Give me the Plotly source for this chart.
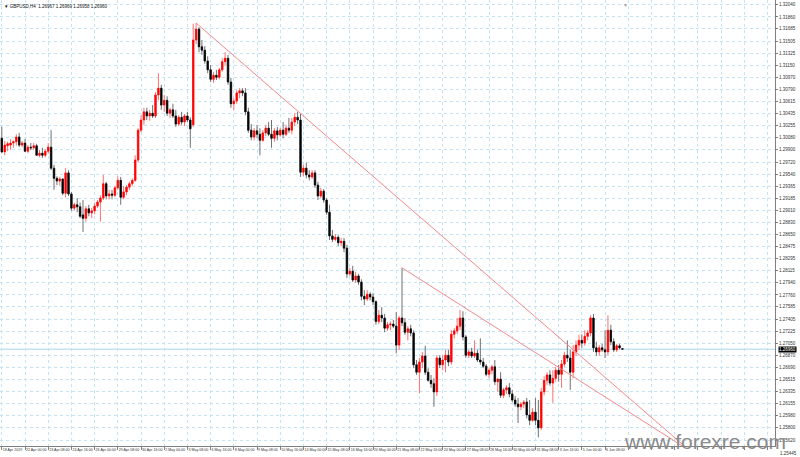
import plotly.graph_objects as go

# ---- data (GBPUSD, H4 bars) ----
open_ = [1.3007, 1.2987, 1.2996, 1.2997, 1.3000, 1.3002, 1.3009, 1.2997, 1.3000, 1.2988,
         1.2994, 1.2993, 1.2996, 1.2982, 1.2985, 1.2982, 1.2988, 1.2994, 1.2963, 1.2948,
         1.2944, 1.2947, 1.2926, 1.2956, 1.2925, 1.2904, 1.2909, 1.2906, 1.2894, 1.2889,
         1.2903, 1.2897, 1.2900, 1.2907, 1.2913, 1.2919, 1.2940, 1.2922, 1.2925, 1.2923,
         1.2934, 1.2945, 1.2920, 1.2928, 1.2935, 1.2940, 1.2945, 1.2975, 1.3019, 1.3034,
         1.3046, 1.3040, 1.3044, 1.3040, 1.3071, 1.3081, 1.3056, 1.3063, 1.3044, 1.3049,
         1.3040, 1.3028, 1.3038, 1.3031, 1.3040, 1.3034, 1.3027, 1.3152, 1.3168, 1.3142,
         1.3137, 1.3121, 1.3108, 1.3094, 1.3100, 1.3097, 1.3108, 1.3120, 1.3125, 1.3090,
         1.3058, 1.3062, 1.3074, 1.3077, 1.3074, 1.3046, 1.3019, 1.3009, 1.3018, 1.3013,
         1.3004, 1.3015, 1.3022, 1.3013, 1.3007, 1.3018, 1.3012, 1.3019, 1.3013, 1.3022,
         1.3019, 1.3031, 1.3038, 1.3034, 1.2957, 1.2963, 1.2953, 1.2950, 1.2956, 1.2938,
         1.2922, 1.2929, 1.2916, 1.2898, 1.2863, 1.2858, 1.2861, 1.2853, 1.2855, 1.2845,
         1.2807, 1.2811, 1.2798, 1.2804, 1.2795, 1.2774, 1.2770, 1.2777, 1.2773, 1.2766,
         1.2737, 1.2746, 1.2742, 1.2727, 1.2732, 1.2733, 1.2730, 1.2702, 1.2742, 1.2735,
         1.2721, 1.2726, 1.2720, 1.2673, 1.2662, 1.2677, 1.2686, 1.2662, 1.2650, 1.2645,
         1.2633, 1.2683, 1.2673, 1.2680, 1.2687, 1.2677, 1.2718, 1.2723, 1.2730, 1.2742,
         1.2714, 1.2687, 1.2692, 1.2686, 1.2690, 1.2680, 1.2677, 1.2671, 1.2659, 1.2665,
         1.2670, 1.2648, 1.2652, 1.2628, 1.2636, 1.2639, 1.2630, 1.2621, 1.2615, 1.2611,
         1.2615, 1.2618, 1.2599, 1.2591, 1.2603, 1.2591, 1.2580, 1.2633, 1.2650, 1.2658,
         1.2646, 1.2653, 1.2665, 1.2659, 1.2674, 1.2687, 1.2683, 1.2662, 1.2692, 1.2702,
         1.2709, 1.2705, 1.2715, 1.2720, 1.2742, 1.2698, 1.2692, 1.2698, 1.2695, 1.2692,
         1.2724, 1.2707, 1.2695, 1.2701, 1.26967]

high = [1.3024, 1.3003, 1.3002, 1.3006, 1.3004, 1.3013, 1.3015, 1.3003, 1.3006, 1.2997,
        1.3000, 1.3000, 1.2999, 1.2990, 1.2993, 1.2991, 1.3000, 1.3019, 1.2968, 1.2951,
        1.2950, 1.2948, 1.2963, 1.2960, 1.2928, 1.2912, 1.2919, 1.2912, 1.2916, 1.2907,
        1.2909, 1.2904, 1.2912, 1.2916, 1.2923, 1.2953, 1.2943, 1.2931, 1.2931, 1.2937,
        1.2951, 1.2950, 1.2937, 1.2938, 1.2943, 1.2948, 1.2982, 1.3022, 1.3041, 1.3052,
        1.3052, 1.3049, 1.3056, 1.3075, 1.3103, 1.3086, 1.3071, 1.3069, 1.3052, 1.3058,
        1.3049, 1.3041, 1.3046, 1.3043, 1.3046, 1.3038, 1.3176, 1.3177, 1.3171, 1.3152,
        1.3143, 1.3128, 1.3115, 1.3105, 1.3108, 1.3111, 1.3125, 1.3134, 1.3130, 1.3096,
        1.3066, 1.3078, 1.3081, 1.3081, 1.3081, 1.3052, 1.3028, 1.3022, 1.3027, 1.3022,
        1.3019, 1.3027, 1.3031, 1.3034, 1.3022, 1.3024, 1.3022, 1.3031, 1.3027, 1.3037,
        1.3037, 1.3044, 1.3046, 1.3043, 1.2968, 1.2971, 1.2960, 1.2960, 1.2960, 1.2943,
        1.2934, 1.2932, 1.2919, 1.2909, 1.2872, 1.2866, 1.2864, 1.2860, 1.2860, 1.2850,
        1.2816, 1.2819, 1.2810, 1.2807, 1.2799, 1.2783, 1.2783, 1.2780, 1.2779, 1.2768,
        1.2754, 1.2758, 1.2748, 1.2736, 1.2737, 1.2739, 1.2751, 1.2745, 1.2816, 1.2742,
        1.2730, 1.2732, 1.2724, 1.2680, 1.2683, 1.2692, 1.2701, 1.2668, 1.2658, 1.2653,
        1.2687, 1.2687, 1.2687, 1.2695, 1.2695, 1.2724, 1.2727, 1.2742, 1.2754, 1.2752,
        1.2717, 1.2695, 1.2698, 1.2709, 1.2695, 1.2712, 1.2683, 1.2674, 1.2668, 1.2673,
        1.2680, 1.2653, 1.2662, 1.2639, 1.2643, 1.2646, 1.2636, 1.2627, 1.2624, 1.2618,
        1.2621, 1.2624, 1.2621, 1.2609, 1.2624, 1.2621, 1.2639, 1.2656, 1.2662, 1.2665,
        1.2665, 1.2670, 1.2673, 1.2680, 1.2692, 1.2709, 1.2695, 1.2702, 1.2709, 1.2717,
        1.2718, 1.2724, 1.2724, 1.2746, 1.2748, 1.2707, 1.2702, 1.2704, 1.2724, 1.2746,
        1.2732, 1.2712, 1.2704, 1.2704, 1.26969]

low = [1.2985, 1.2982, 1.2988, 1.2990, 1.2993, 1.2996, 1.2994, 1.2994, 1.2987, 1.2985,
       1.2990, 1.2990, 1.2981, 1.2979, 1.2978, 1.2979, 1.2984, 1.2960, 1.2931, 1.2938,
       1.2937, 1.2923, 1.2920, 1.2922, 1.2900, 1.2901, 1.2898, 1.2889, 1.2869, 1.2884,
       1.2892, 1.2889, 1.2895, 1.2904, 1.2884, 1.2916, 1.2917, 1.2917, 1.2917, 1.2920,
       1.2931, 1.2909, 1.2917, 1.2923, 1.2931, 1.2937, 1.2943, 1.2972, 1.3016, 1.3027,
       1.3034, 1.3033, 1.3037, 1.3037, 1.3063, 1.3049, 1.3046, 1.3040, 1.3037, 1.3037,
       1.3024, 1.3025, 1.3027, 1.3025, 1.3031, 1.2993, 1.3024, 1.3146, 1.3134, 1.3130,
       1.3117, 1.3103, 1.3090, 1.3089, 1.3093, 1.3094, 1.3105, 1.3114, 1.3086, 1.3052,
       1.3049, 1.3058, 1.3066, 1.3069, 1.3041, 1.3015, 1.3004, 1.3004, 1.3007, 1.2982,
       1.3002, 1.3010, 1.3010, 1.2993, 1.3002, 1.3004, 1.3009, 1.3007, 1.3010, 1.3015,
       1.3013, 1.3025, 1.3028, 1.2950, 1.2951, 1.2948, 1.2945, 1.2947, 1.2934, 1.2916,
       1.2919, 1.2912, 1.2894, 1.2857, 1.2854, 1.2855, 1.2848, 1.2848, 1.2839, 1.2801,
       1.2804, 1.2795, 1.2794, 1.2791, 1.2768, 1.2761, 1.2767, 1.2768, 1.2761, 1.2732,
       1.2733, 1.2736, 1.2721, 1.2723, 1.2724, 1.2727, 1.2690, 1.2695, 1.2730, 1.2717,
       1.2709, 1.2715, 1.2668, 1.2658, 1.2631, 1.2668, 1.2658, 1.2648, 1.2639, 1.2611,
       1.2627, 1.2668, 1.2665, 1.2662, 1.2671, 1.2673, 1.2712, 1.2718, 1.2724, 1.2709,
       1.2683, 1.2683, 1.2683, 1.2683, 1.2677, 1.2673, 1.2668, 1.2656, 1.2653, 1.2659,
       1.2643, 1.2633, 1.2624, 1.2624, 1.2630, 1.2625, 1.2618, 1.2611, 1.2587, 1.2606,
       1.2609, 1.2594, 1.2584, 1.2589, 1.2584, 1.2566, 1.2577, 1.2628, 1.2643, 1.2642,
       1.2617, 1.2648, 1.2648, 1.2639, 1.2670, 1.2677, 1.2636, 1.2653, 1.2686, 1.2695,
       1.2698, 1.2701, 1.2709, 1.2715, 1.2692, 1.2686, 1.2686, 1.2692, 1.2683, 1.2687,
       1.2702, 1.2692, 1.2692, 1.2696, 1.26958]

close = [1.2987, 1.2997, 1.2999, 1.3000, 1.3002, 1.3009, 1.2997, 1.3000, 1.2988, 1.2994,
         1.2993, 1.2996, 1.2982, 1.2985, 1.2982, 1.2988, 1.2994, 1.2963, 1.2948, 1.2944,
         1.2947, 1.2926, 1.2956, 1.2925, 1.2904, 1.2909, 1.2906, 1.2892, 1.2889, 1.2903,
         1.2897, 1.2900, 1.2907, 1.2913, 1.2919, 1.2940, 1.2922, 1.2925, 1.2923, 1.2934,
         1.2945, 1.2920, 1.2928, 1.2935, 1.2940, 1.2945, 1.2975, 1.3019, 1.3034, 1.3046,
         1.3040, 1.3044, 1.3040, 1.3071, 1.3081, 1.3056, 1.3063, 1.3044, 1.3049, 1.3040,
         1.3028, 1.3038, 1.3031, 1.3040, 1.3034, 1.3021, 1.3152, 1.3168, 1.3142, 1.3137,
         1.3121, 1.3108, 1.3094, 1.3100, 1.3097, 1.3108, 1.3120, 1.3125, 1.3090, 1.3058,
         1.3062, 1.3074, 1.3077, 1.3074, 1.3046, 1.3019, 1.3009, 1.3018, 1.3013, 1.3004,
         1.3015, 1.3022, 1.3013, 1.3007, 1.3018, 1.3012, 1.3019, 1.3013, 1.3022, 1.3019,
         1.3031, 1.3038, 1.3034, 1.2957, 1.2963, 1.2953, 1.2950, 1.2956, 1.2938, 1.2922,
         1.2929, 1.2916, 1.2898, 1.2863, 1.2858, 1.2861, 1.2853, 1.2855, 1.2845, 1.2807,
         1.2811, 1.2798, 1.2804, 1.2795, 1.2774, 1.2770, 1.2777, 1.2773, 1.2766, 1.2737,
         1.2746, 1.2742, 1.2727, 1.2732, 1.2733, 1.2730, 1.2702, 1.2742, 1.2735, 1.2721,
         1.2726, 1.2720, 1.2673, 1.2662, 1.2677, 1.2686, 1.2662, 1.2650, 1.2645, 1.2633,
         1.2683, 1.2673, 1.2680, 1.2687, 1.2677, 1.2718, 1.2723, 1.2730, 1.2742, 1.2714,
         1.2687, 1.2692, 1.2686, 1.2690, 1.2680, 1.2677, 1.2671, 1.2659, 1.2665, 1.2670,
         1.2648, 1.2652, 1.2628, 1.2636, 1.2639, 1.2630, 1.2621, 1.2615, 1.2611, 1.2615,
         1.2618, 1.2599, 1.2591, 1.2603, 1.2591, 1.2580, 1.2633, 1.2650, 1.2658, 1.2646,
         1.2653, 1.2665, 1.2659, 1.2674, 1.2687, 1.2683, 1.2662, 1.2692, 1.2702, 1.2709,
         1.2705, 1.2715, 1.2720, 1.2742, 1.2698, 1.2692, 1.2698, 1.2695, 1.2692, 1.2724,
         1.2707, 1.2695, 1.2701, 1.2698, 1.26960]

# time-axis labels (every 8th H4 bar)
time_tick_bars = [0, 8, 16, 24, 32, 40, 48, 56, 64, 72, 80, 88, 96, 104, 112, 120,
                  128, 136, 144, 152, 160, 168, 176, 184, 192, 200, 208]
time_tick_labels = ["18 Apr 2019", "22 Apr 00:00", "23 Apr 08:00", "24 Apr 16:00",
                    "26 Apr 00:00", "29 Apr 08:00", "30 Apr 16:00", "2 May 00:00",
                    "3 May 08:00", "6 May 16:00", "8 May 00:00", "9 May 08:00",
                    "10 May 16:00", "14 May 00:00", "15 May 08:00", "16 May 16:00",
                    "20 May 00:00", "21 May 08:00", "22 May 16:00", "24 May 00:00",
                    "27 May 08:00", "28 May 16:00", "30 May 00:00", "31 May 08:00",
                    "3 Jun 16:00", "5 Jun 00:00", "6 Jun 08:00"]
future_grid_bars = [216, 224, 232, 240, 248, 256, 264]

# price-axis labels
price_ticks = [1.32040, 1.31860, 1.31685, 1.31505, 1.31325, 1.31150, 1.30970, 1.30790,
               1.30615, 1.30435, 1.30255, 1.30080, 1.29900, 1.29720, 1.29540, 1.29365,
               1.29185, 1.29010, 1.28830, 1.28650, 1.28475, 1.28295, 1.28115, 1.27940,
               1.27760, 1.27585, 1.27405, 1.27225, 1.27050, 1.26870, 1.26690, 1.26515,
               1.26335, 1.26155, 1.25980, 1.25800, 1.25620]
bottom_price_label = 1.25445

# trend lines (bar index, price)
trend1_bars = [67, 237.3]
trend1_prices = [1.3177, 1.2546]
trend2_bars = [138, 237.3]
trend2_prices = [1.2816, 1.2546]

header = "\u25BC GBPUSD,H4  1.26967 1.26969 1.26958 1.26960"

# ---- figure ----
bars = list(range(len(open_)))
body_top = [max(o, c) for o, c in zip(open_, close)]
body_bot = [min(o, c) for o, c in zip(open_, close)]

fig = go.Figure()
# wicks
fig.add_trace(go.Candlestick(
    x=bars, open=open_, high=high, low=low, close=close,
    increasing=dict(line=dict(color="#ff7070", width=1), fillcolor="#ff7070"),
    decreasing=dict(line=dict(color="#707070", width=1), fillcolor="#707070"),
    whiskerwidth=0, showlegend=False, hoverinfo="skip"))
# bodies
fig.add_trace(go.Candlestick(
    x=bars, open=open_, high=body_top, low=body_bot, close=close,
    increasing=dict(line=dict(color="#ff0000", width=0.5), fillcolor="#ff0000"),
    decreasing=dict(line=dict(color="#000000", width=0.5), fillcolor="#000000"),
    whiskerwidth=0, showlegend=False, hoverinfo="skip"))

for tx, ty in ((trend1_bars, trend1_prices), (trend2_bars, trend2_prices)):
    fig.add_trace(go.Scatter(x=tx, y=ty, mode="lines",
                             line=dict(color="#f08a8a", width=1),
                             showlegend=False, hoverinfo="skip"))

grid_color = "#c4e4f6"
axis_font = dict(family="Liberation Sans, Arial, sans-serif", size=4.5, color="#333333")
time_font = dict(family="Liberation Sans, Arial, sans-serif", size=3.6, color="#333333")

fig.update_layout(
    width=800, height=457,
    margin=dict(l=0, r=25, t=0, b=11, pad=0),
    paper_bgcolor="white", plot_bgcolor="white",
    boxmode="overlay",
    showlegend=False,
    xaxis=dict(
        range=[-0.62, 266.6], rangeslider=dict(visible=False),
        tickmode="array",
        tickvals=time_tick_bars + future_grid_bars,
        ticktext=time_tick_labels + [""] * len(future_grid_bars),
        ticklabelposition="outside right", tickangle=0,
        ticks="outside", ticklen=3, tickcolor="#808080",
        showgrid=True, gridcolor=grid_color, griddash="dot", gridwidth=1,
        showline=True, linecolor="#808080", linewidth=1,
        zeroline=False, tickfont=time_font, automargin=False, fixedrange=True),
    yaxis=dict(
        side="right", range=[1.25532, 1.3211],
        tickmode="array", tickvals=price_ticks,
        ticktext=[f"{v:.5f}" for v in price_ticks],
        ticks="outside", ticklen=2, tickcolor="#808080",
        showgrid=True, gridcolor=grid_color, griddash="dot", gridwidth=1,
        showline=True, linecolor="#808080", linewidth=1,
        zeroline=False, tickfont=axis_font, automargin=False, fixedrange=True),
)

# current bid line
fig.add_shape(type="line", xref="paper", x0=0, x1=1, yref="y",
              y0=close[-1], y1=close[-1], line=dict(color="#a5d5f0", width=1),
              layer="between")

# price box on the axis
fig.add_annotation(xref="paper", x=1, xanchor="left", xshift=3,
                   yref="y", y=close[-1], yanchor="middle",
                   text=f"{close[-1]:.5f}", showarrow=False,
                   bgcolor="black", borderpad=0,
                   font=dict(family="Liberation Sans, Arial, sans-serif", size=4.5, color="white"))

# bottom price label (below the plot area)
fig.add_annotation(xref="paper", x=1, xanchor="left", xshift=4,
                   yref="paper", y=-0.016, yanchor="middle",
                   text=f"{bottom_price_label:.5f}", showarrow=False,
                   borderpad=0, font=axis_font)

# header
fig.add_annotation(xref="paper", x=0, xanchor="left", xshift=2,
                   yref="paper", y=1, yanchor="top", yshift=-2,
                   text=header, showarrow=False,
                   font=dict(family="Liberation Sans, Arial, sans-serif", size=4.5, color="#111111"))

# chart-shift marker
fig.add_annotation(xref="paper", x=625 / 775, xanchor="center",
                   yref="paper", y=1, yanchor="top",
                   text="\u25BC", showarrow=False,
                   font=dict(size=5, color="#a0a0a0"))

# watermark
fig.add_annotation(xref="paper", x=705 / 775, xanchor="center",
                   yref="paper", y=(446 - 441) / 446, yanchor="middle",
                   text="www.forexre.com", showarrow=False,
                   font=dict(family="Liberation Sans, Arial, sans-serif", size=21, color="#8a8a8a"))

fig.write_html("out.html",
               config={"displayModeBar": False},
               post_script="document.body.style.margin='0px';"
                           "document.body.style.overflow='hidden';")
